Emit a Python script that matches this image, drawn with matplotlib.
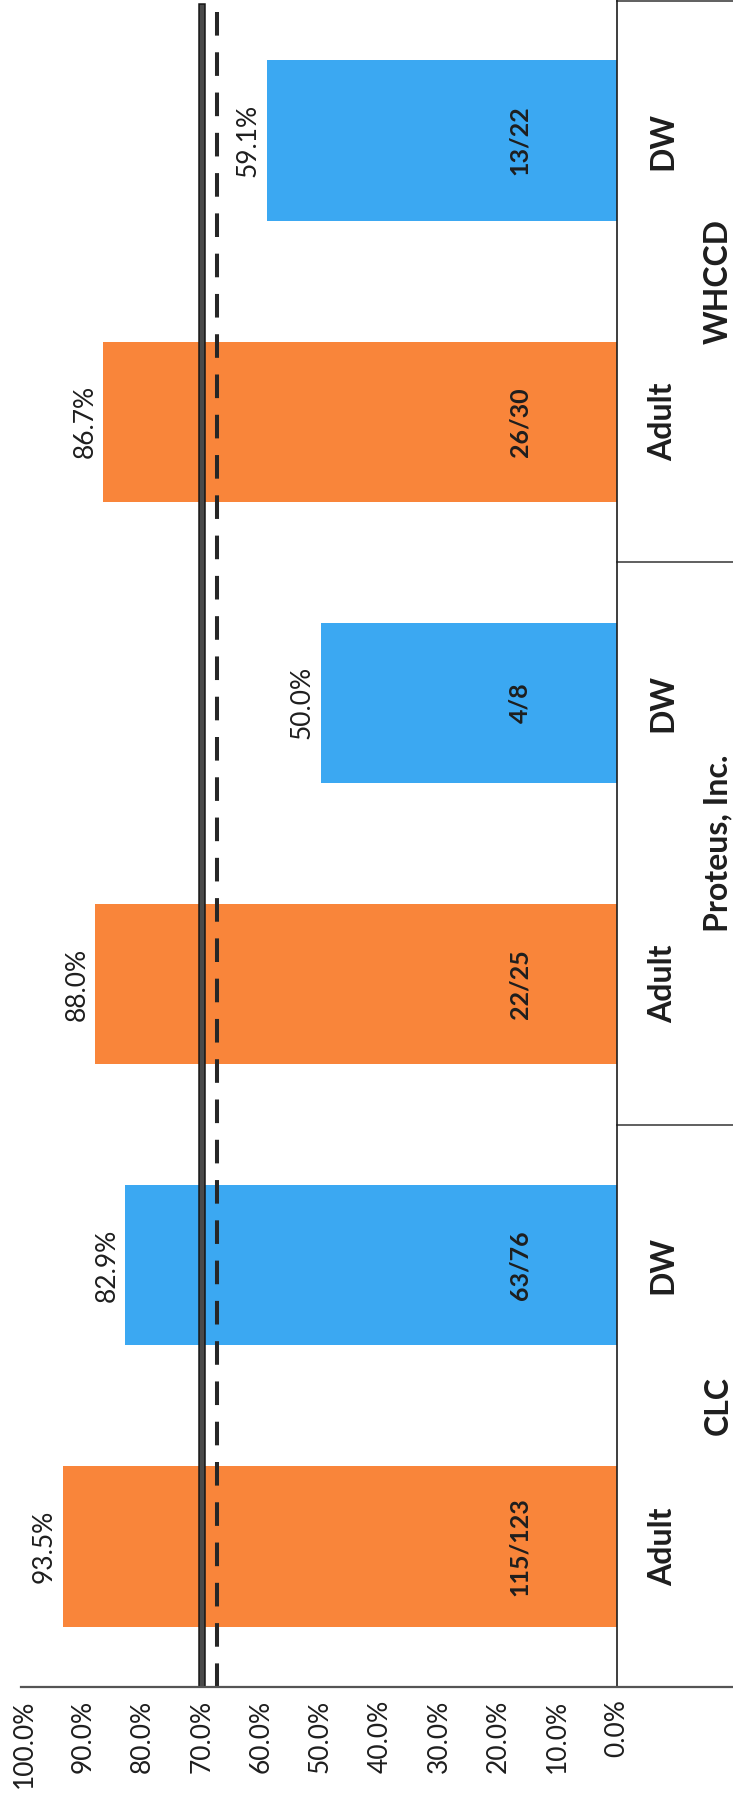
import matplotlib
matplotlib.use('Agg')
import matplotlib.pyplot as plt
import matplotlib.patheffects as pe
import matplotlib.transforms as mtrans

plt.rcParams['font.family'] = ['Lato', 'DejaVu Sans']
plt.rcParams['lines.scale_dashes'] = False

# data, bottom to top (chart is turned on its side)
groups = ['CLC', 'Proteus, Inc.', 'WHCCD']
kinds = ['Adult', 'DW', 'Adult', 'DW', 'Adult', 'DW']
values = [93.5, 82.9, 88.0, 50.0, 86.7, 59.1]
counts = ['115/123', '63/76', '22/25', '4/8', '26/30', '13/22']
goal = 70.0
negotiated = 67.5
ticks = [0, 10, 20, 30, 40, 50, 60, 70, 80, 90, 100]

orange = '#F9853A'
blue = '#3BA8F2'
ink = '#1e1e1e'

W, H = 733, 1797
fig = plt.figure(figsize=(W/100, H/100), dpi=100)
x0, x1 = 24, 617      # pixel of 100% and 0%
ytop, ybot = 0, 1687
ax = fig.add_axes([x0/W, (H-ybot)/H, (x1-x0)/W, (ybot-ytop)/H])

pos = list(range(len(values)))
cols = [orange if k == 'Adult' else blue for k in kinds]
ax.barh(pos, values, height=0.57, color=cols, zorder=2)
ax.set_xlim(100, 0)
ax.set_ylim(-0.5, len(values)-0.5)

for s in ['top', 'left', 'bottom']:
    ax.spines[s].set_visible(False)
ax.spines['right'].set_color(ink)
ax.spines['right'].set_linewidth(1.2)
ax.set_yticks([])
ax.set_xticks(ticks)
ax.set_xticklabels(['%.1f%%' % t for t in ticks], rotation=90, fontsize=19, color=ink)
ax.tick_params(axis='x', length=0, pad=9)

# value axis line, runs past the category box
ax.plot([-0.005, (W-x0)/(x1-x0)], [0, 0], transform=ax.transAxes, color='#555555',
        lw=1.6, clip_on=False, zorder=5)

# target lines
ax.plot([goal, goal], [-0.5, len(values)-0.5-0.025], color='#4a4a4a', lw=3.2, zorder=4,
        path_effects=[pe.Stroke(linewidth=5.4, foreground='#151515'), pe.Normal()])
ax.plot([negotiated, negotiated], [-0.5, len(values)-0.5], color='#262626', lw=2.9,
        dashes=(17, 12), zorder=4)

for p, v, c in zip(pos, values, counts):
    ax.annotate('%.1f%%' % v, (v, p), xytext=(-13, 0), textcoords='offset points',
                rotation=90, ha='center', va='center', fontsize=19, color=ink)
    ax.text(16.4, p, c, rotation=90, ha='center', va='center', fontsize=18,
            fontweight='bold', color=ink, zorder=3)

# category box on the right
tr = mtrans.blended_transform_factory(ax.transAxes, ax.transData)
xr = (W-x0)/(x1-x0)
xk = (663-x0)/(x1-x0)
xg = (718-x0)/(x1-x0)
for p, k in zip(pos, kinds):
    ax.text(xk, p, k, transform=tr, rotation=90, ha='center', va='center',
            fontsize=23, fontweight='bold', color=ink)
for i, g in enumerate(groups):
    ax.text(xg, 2*i+0.5, g, transform=tr, rotation=90, ha='center', va='center',
            fontsize=23, fontweight='bold', color=ink)
for yy in [1.5, 3.5, 5.5-0.003]:
    ax.plot([1.0, xr], [yy, yy], transform=tr, color='#444444', lw=1.2, clip_on=False)

fig.savefig('out.png', dpi=100)
